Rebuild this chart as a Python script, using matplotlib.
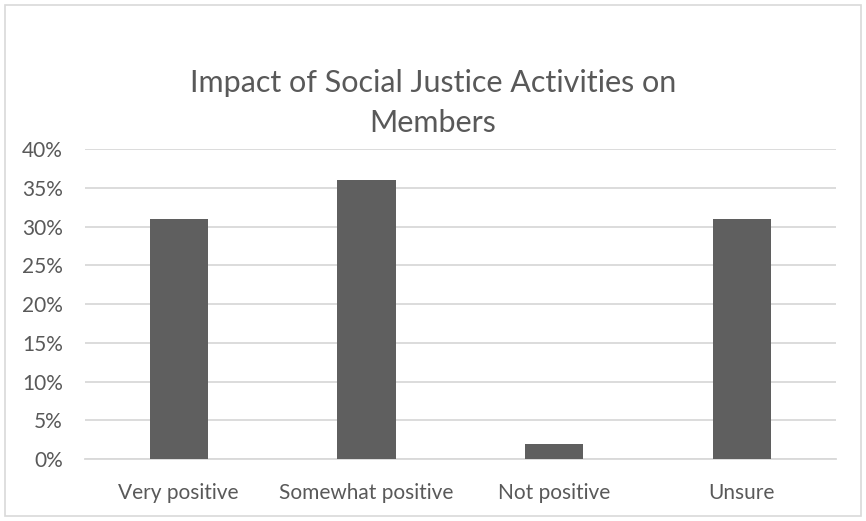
import matplotlib
matplotlib.use("Agg")
import matplotlib.pyplot as plt
from matplotlib.ticker import PercentFormatter
from matplotlib.patches import Rectangle

plt.rcParams['font.family'] = ['Lato', 'DejaVu Sans']

categories = ["Very positive", "Somewhat positive", "Not positive", "Unsure"]
shares = [0.31, 0.36, 0.02, 0.31]
y_ticks = [0, 0.05, 0.10, 0.15, 0.20, 0.25, 0.30, 0.35, 0.40]

text_col = "#595959"
grid_col = "#d9d9d9"

fig = plt.figure(figsize=(8.66, 5.21), dpi=100)
ax = fig.add_axes([0.098, 0.119, 0.867, 0.595])

x = range(len(categories))
ax.bar(x, shares, width=0.31, color="#5f5f5f", zorder=3)

ax.set_xlim(-0.5, len(categories) - 0.5)
ax.set_ylim(0, 0.40)
ax.set_yticks(y_ticks)
ax.yaxis.set_major_formatter(PercentFormatter(1.0, decimals=0))
ax.set_xticks(list(x))
ax.set_xticklabels(categories)
ax.grid(axis="y", color=grid_col, linewidth=1.3, zorder=0)
ax.tick_params(length=0, labelsize=15, colors=text_col)
ax.tick_params(axis="x", pad=17)
ax.tick_params(axis="y", pad=16)
for s in ["top", "right", "left"]:
    ax.spines[s].set_visible(False)
ax.spines["bottom"].set_color(grid_col)
ax.spines["bottom"].set_linewidth(1.3)

fig.text(0.5, 0.802, "Impact of Social Justice Activities on\nMembers",
         ha="center", va="center", fontsize=22, color=text_col, linespacing=1.55)

# chart border
fig.patches.append(Rectangle((0.006, 0.01), 0.988, 0.98, transform=fig.transFigure,
                             fill=False, edgecolor=grid_col, linewidth=1.2))

fig.savefig("out.png", dpi=100)
